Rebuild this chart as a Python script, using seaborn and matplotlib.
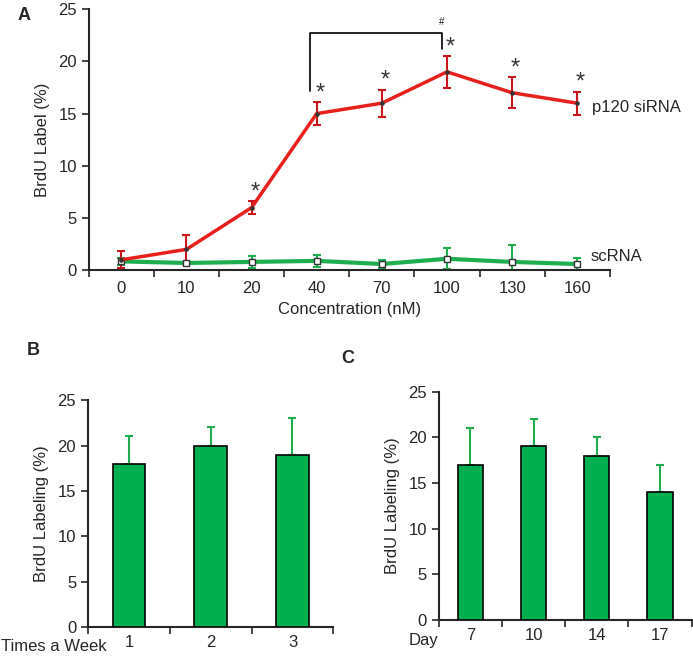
import numpy as np
import pandas as pd
import seaborn as sns
import matplotlib.pyplot as plt

# Panel A data
conc = ["0", "10", "20", "40", "70", "100", "130", "160"]
sirna_mean = [1.0, 2.0, 6.0, 15.0, 16.0, 19.0, 17.0, 16.0]
sirna_err = [0.8, 1.4, 0.6, 1.1, 1.3, 1.5, 1.5, 1.1]
scrna_mean = [0.85, 0.7, 0.8, 0.9, 0.6, 1.1, 0.8, 0.6]
scrna_err = [0.3, 0.1, 0.55, 0.6, 0.4, 1.0, 1.6, 0.55]
star_idx = [2, 3, 4, 5, 6, 7]

# Panel B data
times = ["1", "2", "3"]
times_mean = [18.0, 20.0, 19.0]
times_err = [3.0, 2.0, 4.0]

# Panel C data
days = ["7", "10", "14", "17"]
days_mean = [17.0, 19.0, 18.0, 14.0]
days_err = [4.0, 3.0, 2.0, 3.0]

RED = "#e8201c"
GREEN = "#1fae4e"
BAR_GREEN = "#00b050"

sns.set_theme(style="ticks")
plt.rcParams["font.family"] = ["Liberation Sans", "DejaVu Sans"]
plt.rcParams["font.size"] = 12

fig = plt.figure(figsize=(6.93, 6.56), dpi=100)
axA = fig.add_axes([0.128, 0.588, 0.752, 0.398])
axB = fig.add_axes([0.127, 0.044, 0.354, 0.346])
axC = fig.add_axes([0.633, 0.055, 0.365, 0.348])

# ---- Panel A ----
dfA = pd.DataFrame({
    "pos": list(range(len(conc))) * 2,
    "value": sirna_mean + scrna_mean,
    "group": ["p120 siRNA"] * len(conc) + ["scRNA"] * len(conc),
})
pos = np.arange(len(conc))
axA.errorbar(pos, scrna_mean, yerr=scrna_err, fmt="none", ecolor=GREEN,
             elinewidth=1.5, capsize=3, capthick=1.5, zorder=2)
axA.errorbar(pos, sirna_mean, yerr=sirna_err, fmt="none", ecolor="#c8161a",
             elinewidth=1.5, capsize=3, capthick=1.5, zorder=2)
sns.lineplot(data=dfA[dfA.group == "scRNA"], x="pos", y="value", ax=axA,
             color=GREEN, lw=3, marker="s", markersize=4.5,
             markerfacecolor="white", markeredgecolor="#333333",
             markeredgewidth=1, legend=False, zorder=3)
sns.lineplot(data=dfA[dfA.group == "p120 siRNA"], x="pos", y="value", ax=axA,
             color=RED, lw=2.5, marker="o", markersize=2.5,
             markerfacecolor="#333333", markeredgecolor="#333333",
             legend=False, zorder=4)

for i in star_idx:
    axA.text(pos[i] + 0.05, sirna_mean[i] + sirna_err[i] - 0.2, "*",
             ha="center", va="bottom", fontsize=17, color="#333333")

# bracket between 40 and 100
axA.plot([2.9, 2.9, 4.92, 4.92], [17.2, 22.7, 22.7, 21.2], color="black", lw=1.2)
axA.text(4.92, 23.3, "#", ha="center", va="bottom", fontsize=7)

axA.text(7.22, 15.6, "p120 siRNA", ha="left", va="center", fontsize=12)
axA.text(7.2, 1.35, "scRNA", ha="left", va="center", fontsize=12)

axA.set_xlim(-0.5, 7.5)
axA.set_ylim(0, 25)
axA.set_yticks([0, 5, 10, 15, 20, 25])
axA.set_xticks(pos)
axA.set_xticklabels(conc)
axA.set_xticks(np.arange(-0.5, 8.0, 1.0), minor=True)
axA.tick_params(axis="x", which="major", length=0, pad=8, labelsize=12)
axA.tick_params(axis="x", which="minor", length=5, width=1.2)
axA.tick_params(axis="y", length=5, width=1.2, labelsize=12)
axA.set_xlabel("Concentration (nM)", fontsize=12, labelpad=4)
axA.set_ylabel("BrdU Label (%)", fontsize=12, labelpad=6)
sns.despine(ax=axA)
for s in ["left", "bottom"]:
    axA.spines[s].set_linewidth(1.5)


def bar_panel(ax, cats, means, errs):
    df = pd.DataFrame({"cat": cats, "value": means})
    sns.barplot(data=df, x="cat", y="value", ax=ax, color=BAR_GREEN,
                width=0.4, edgecolor="black", linewidth=1.2, saturation=1,
                errorbar=None, zorder=3)
    x = np.arange(len(cats))
    ax.errorbar(x, means, yerr=[np.zeros(len(errs)), errs], fmt="none",
                ecolor=GREEN, elinewidth=1.5, capsize=3, capthick=1.5, zorder=2)
    ax.set_xlim(-0.5, len(cats) - 0.5)
    ax.set_ylim(0, 25)
    ax.set_yticks([0, 5, 10, 15, 20, 25])
    ax.set_xticks(np.arange(-0.5, len(cats), 1.0), minor=True)
    ax.tick_params(axis="x", which="major", length=0, pad=6, labelsize=12)
    ax.tick_params(axis="x", which="minor", length=5, width=1.2)
    ax.tick_params(axis="y", length=5, width=1.2, labelsize=12)
    ax.set_xlabel("")
    ax.set_ylabel("BrdU Labeling (%)", fontsize=12, labelpad=6)
    sns.despine(ax=ax)
    for s in ["left", "bottom"]:
        ax.spines[s].set_linewidth(1.5)


bar_panel(axB, times, times_mean, times_err)
bar_panel(axC, days, days_mean, days_err)

fig.text(0.002, 0.015, "Times a Week", fontsize=12, ha="left", va="center")
fig.text(0.589, 0.023, "Day", fontsize=12, ha="left", va="center")
fig.text(0.035, 0.977, "A", fontsize=13, fontweight="bold", ha="center", va="center")
fig.text(0.048, 0.465, "B", fontsize=13, fontweight="bold", ha="center", va="center")
fig.text(0.502, 0.454, "C", fontsize=13, fontweight="bold", ha="center", va="center")

fig.savefig("out.png", dpi=100)
